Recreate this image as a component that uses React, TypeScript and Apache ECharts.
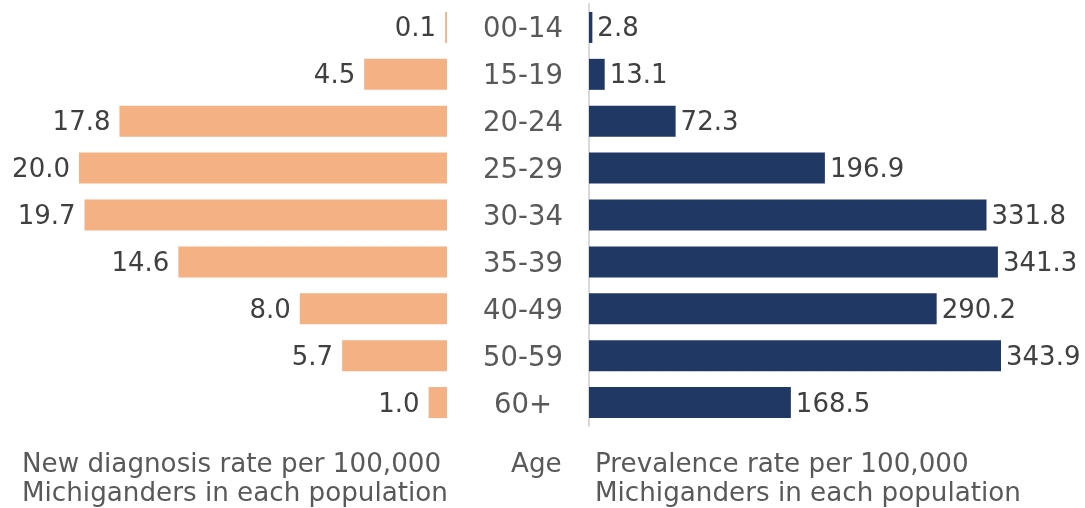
import React, { useEffect, useRef } from "react";
import * as echarts from "echarts";

const ageGroups = ["00-14", "15-19", "20-24", "25-29", "30-34", "35-39", "40-49", "50-59", "60+"];
const newDiagnosisRate = [0.1, 4.5, 17.8, 20.0, 19.7, 14.6, 8.0, 5.7, 1.0];
const prevalenceRate = [2.8, 13.1, 72.3, 196.9, 331.8, 341.3, 290.2, 343.9, 168.5];
const leftTitle = "New diagnosis rate per 100,000\nMichiganders in each population";
const centerTitle = "Age";
const rightTitle = "Prevalence rate per 100,000\nMichiganders in each population";

const FONT = "DejaVu Sans, Verdana, sans-serif";

export default function App() {
  const ref = useRef<HTMLDivElement>(null);
  useEffect(() => {
    if (!ref.current) return;
    const chart = echarts.init(ref.current, null, { renderer: "svg" });
    const fmt = (p: any) => Number(p.value).toFixed(1);
    chart.setOption({
      animation: false,
      textStyle: { fontFamily: FONT },
      grid: [
        { left: 79, width: 368, top: 4, height: 422 },
        { left: 589, width: 412, top: 4, height: 422 },
      ],
      xAxis: [
        { type: "value", gridIndex: 0, inverse: true, min: 0, max: Math.max(...newDiagnosisRate), show: false },
        { type: "value", gridIndex: 1, min: 0, max: Math.max(...prevalenceRate), show: false },
      ],
      yAxis: [
        { type: "category", gridIndex: 0, inverse: true, data: ageGroups, show: false },
        {
          type: "category",
          gridIndex: 1,
          inverse: true,
          data: ageGroups,
          axisLine: { show: true, lineStyle: { color: "#d9d9d9", width: 2 } },
          axisTick: { show: false },
          axisLabel: { align: "center", margin: 66, fontSize: 27.5, color: "#595959", fontFamily: FONT },
        },
      ],
      series: [
        {
          type: "bar",
          xAxisIndex: 0,
          yAxisIndex: 0,
          data: newDiagnosisRate,
          barWidth: 31,
          itemStyle: { color: "#F4B183" },
          label: { show: true, position: "left", distance: 9, fontSize: 26, color: "#404040", fontFamily: FONT, formatter: fmt },
        },
        {
          type: "bar",
          xAxisIndex: 1,
          yAxisIndex: 1,
          data: prevalenceRate,
          barWidth: 31,
          itemStyle: { color: "#203864" },
          label: { show: true, position: "right", distance: 5, fontSize: 26, color: "#404040", fontFamily: FONT, formatter: fmt },
        },
      ],
      graphic: [
        { type: "text", left: 22, top: 448, style: { text: leftTitle, fontSize: 26.2, lineHeight: 29, fill: "#595959", fontFamily: FONT } },
        { type: "text", left: 511, top: 448, style: { text: centerTitle, fontSize: 26.2, lineHeight: 29, fill: "#595959", fontFamily: FONT } },
        { type: "text", left: 595, top: 448, style: { text: rightTitle, fontSize: 26.2, lineHeight: 29, fill: "#595959", fontFamily: FONT } },
      ],
    });
    return () => chart.dispose();
  }, []);
  return <div ref={ref} style={{ position: "fixed", left: 0, top: 0, width: 1085, height: 508 }} />;
}
